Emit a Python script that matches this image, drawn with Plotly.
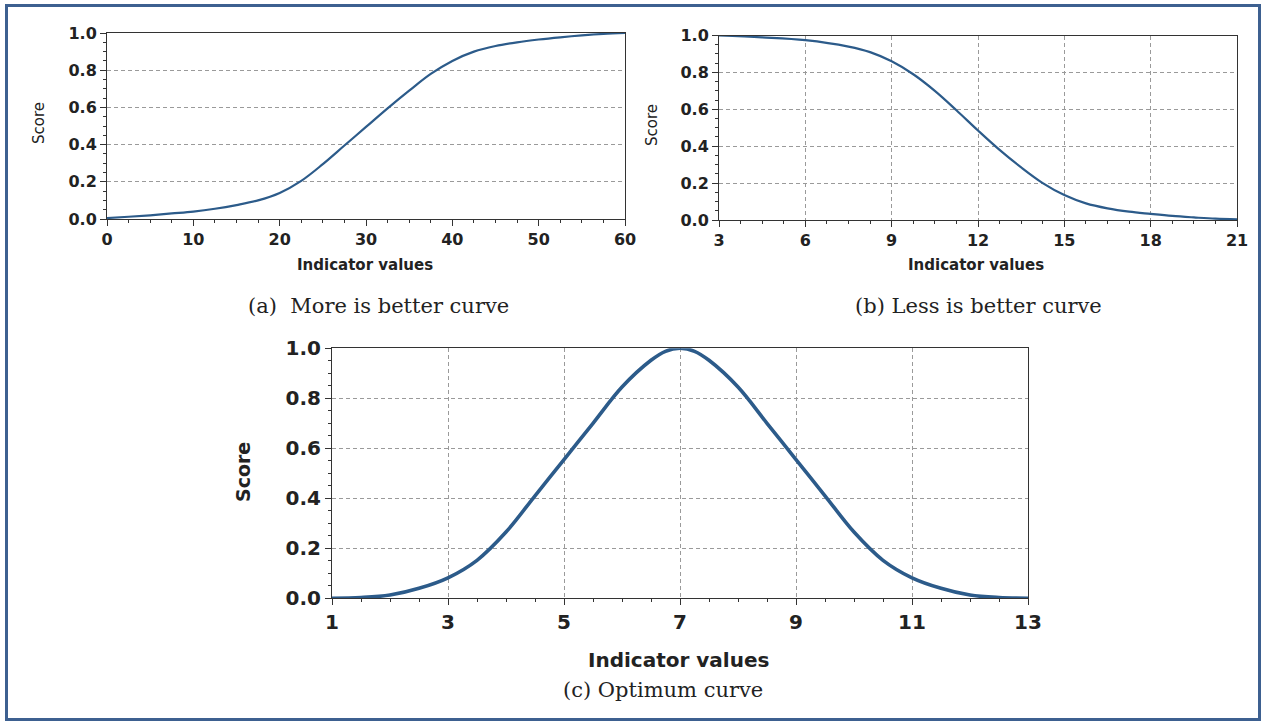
import plotly.graph_objects as go

W, H = 1262, 721

# ---- data ----
more_x = [0, 2.5, 5, 7.5, 10, 12.5, 15, 17.5, 20, 22.5, 25, 27.5, 30, 32.5, 35, 37.5, 40, 42.5, 45, 47.5, 50, 52.5, 55, 57.5, 60]
more_y = [0.005, 0.012, 0.02, 0.03, 0.04, 0.055, 0.075, 0.1, 0.14, 0.205, 0.295, 0.395, 0.495, 0.595, 0.69, 0.78, 0.85, 0.9, 0.93, 0.95, 0.965, 0.977, 0.987, 0.995, 1.0]

less_x = [3, 4.5, 6, 7.5, 8.25, 9, 9.75, 10.5, 11.25, 12, 12.75, 13.5, 14.25, 15, 15.75, 16.5, 17.25, 18, 18.75, 19.5, 20.25, 21]
less_y = [1.0, 0.99, 0.975, 0.94, 0.91, 0.86, 0.79, 0.7, 0.595, 0.485, 0.38, 0.285, 0.2, 0.135, 0.09, 0.063, 0.045, 0.033, 0.022, 0.014, 0.007, 0.004]

opt_x = [1, 1.5, 2, 2.5, 3, 3.5, 4, 4.5, 5, 5.5, 6, 6.5, 6.75, 7, 7.25, 7.5, 8, 8.5, 9, 9.5, 10, 10.5, 11, 11.5, 12, 12.5, 13]
opt_y = [0.0, 0.003, 0.013, 0.04, 0.082, 0.152, 0.265, 0.41, 0.555, 0.70, 0.845, 0.952, 0.988, 1.0, 0.988, 0.952, 0.845, 0.70, 0.555, 0.41, 0.265, 0.152, 0.082, 0.04, 0.013, 0.003, 0.0]

y_ticks = [0.0, 0.2, 0.4, 0.6, 0.8, 1.0]
y_labels = ["0.0", "0.2", "0.4", "0.6", "0.8", "1.0"]

captions = ["(a)  More is better curve", "(b) Less is better curve", "(c) Optimum curve"]
x_title = "Indicator values"
y_title = "Score"


def px(x):
    return x / W


def py(y):
    return 1 - y / H


LINE = "#2c5b8a"
AX = "#333333"
GRID = "#9a9a9a"

fig = go.Figure()

fig.add_trace(go.Scatter(x=more_x, y=more_y, mode="lines", line=dict(color=LINE, width=2.2, shape="spline", smoothing=1.0),
                         xaxis="x", yaxis="y", cliponaxis=False, showlegend=False))
fig.add_trace(go.Scatter(x=less_x, y=less_y, mode="lines", line=dict(color=LINE, width=2.2, shape="spline", smoothing=1.0),
                         xaxis="x2", yaxis="y2", cliponaxis=False, showlegend=False))
fig.add_trace(go.Scatter(x=opt_x, y=opt_y, mode="lines", line=dict(color=LINE, width=3.6, shape="spline", smoothing=1.0),
                         xaxis="x3", yaxis="y3", cliponaxis=False, showlegend=False))


def xaxis(domain, rng, dtick, minor, grid, anchor, fsize):
    return dict(domain=domain, range=rng, dtick=dtick, tick0=rng[0], showline=True, linecolor=AX, linewidth=1,
                mirror=True, ticks="outside", ticklen=6, tickcolor=AX, showgrid=grid, gridcolor=GRID,
                griddash="4px,3px", gridwidth=1, zeroline=False, anchor=anchor, automargin=False,
                minor=dict(ticks="outside", ticklen=3, dtick=minor, tick0=rng[0], tickcolor=AX, showgrid=False),
                tickfont=dict(family="DejaVu Sans", size=fsize, color="#222", weight="bold"))


def yaxis(domain, anchor, fsize):
    return dict(domain=domain, range=[0, 1], tickvals=y_ticks, ticktext=y_labels, showline=True, linecolor=AX,
                linewidth=1, mirror=True, ticks="outside", ticklen=6, tickcolor=AX, showgrid=True,
                gridcolor=GRID, griddash="4px,3px", gridwidth=1, zeroline=False, anchor=anchor, automargin=False,
                minor=dict(ticks="outside", ticklen=3, dtick=0.05, tick0=0, tickcolor=AX, showgrid=False),
                tickfont=dict(family="DejaVu Sans", size=fsize, color="#222", weight="bold"))


fig.update_layout(
    width=W, height=H, margin=dict(l=0, r=0, t=0, b=0, autoexpand=False),
    paper_bgcolor="white", plot_bgcolor="rgba(0,0,0,0)",
    xaxis=xaxis([px(107), px(625)], [0, 60], 10, 2.5, False, "y", 16),
    yaxis=yaxis([py(219), py(33)], "x", 16),
    xaxis2=xaxis([px(719), px(1237)], [3, 21], 3, 0.75, True, "y2", 16),
    yaxis2=yaxis([py(220), py(35.5)], "x2", 16),
    xaxis3=xaxis([px(332), px(1028)], [1, 13], 2, 0.5, True, "y3", 20),
    yaxis3=yaxis([py(598.3), py(348.3)], "x3", 20),
)

ann = []


def add_text(text, x, y, size, family="DejaVu Sans", bold=False, angle=0, color="#222"):
    ann.append(dict(text=text, x=px(x), y=py(y), xref="paper", yref="paper", xanchor="center", yanchor="middle",
                    showarrow=False, textangle=angle,
                    font=dict(family=family, size=size, color=color, weight="bold" if bold else "normal")))


add_text(y_title, 39, 123, 15, angle=-90)
add_text(x_title, 365, 265, 15, bold=True)
add_text(captions[0], 378, 306, 21, family="DejaVu Serif")

add_text(y_title, 652, 125, 15, angle=-90)
add_text(x_title, 976, 265, 15, bold=True)
add_text(captions[1], 978, 306, 21, family="DejaVu Serif")

add_text(y_title, 243, 472, 19, bold=True, angle=-90)
add_text(x_title, 678, 660, 20, bold=True)
add_text(captions[2], 663, 690, 21, family="DejaVu Serif")

fig.update_layout(annotations=ann)

fig.add_shape(type="rect", xref="paper", yref="paper", x0=px(6.5), x1=px(1259.5), y0=py(719.5), y1=py(5.5),
              line=dict(color="#3d6090", width=3), fillcolor="rgba(0,0,0,0)", layer="above")

fig.write_html("out.html")
